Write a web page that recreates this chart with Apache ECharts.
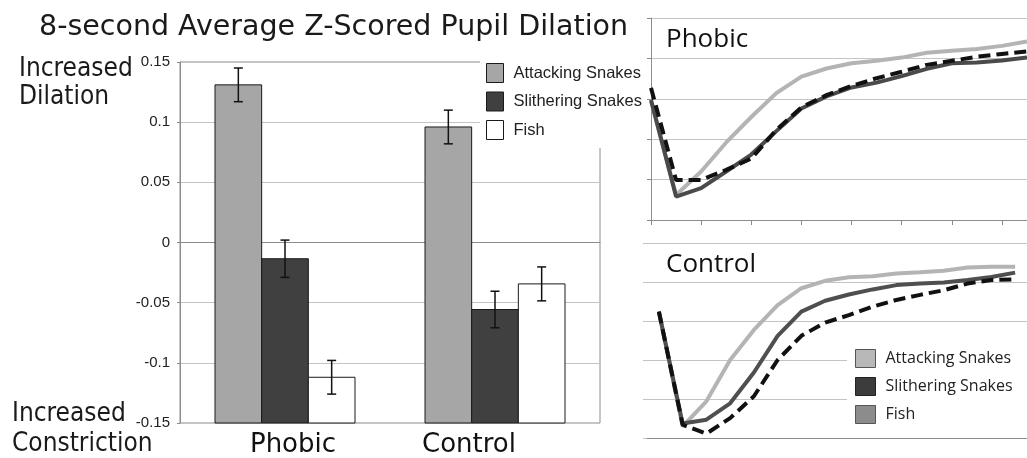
<html>
<head>
  <meta charset="utf-8">
  <style>
    html, body { margin: 0; padding: 0; background: #fff; }
    #container { width: 1027px; height: 458px; }
  </style>
</head>
<body>
<div id="container"></div>
<script src="https://cdn.jsdelivr.net/npm/echarts@6/dist/echarts.min.js"></script>
<script>
  // bar chart data (8-second average z-scored pupil dilation)
  const groups = ['Phobic', 'Control'];
  const attackMean = [0.131, 0.096];
  const slitherMean = [-0.0135, -0.0557];
  const fishMean = [-0.112, -0.0344];
  const attackErr = [0.014, 0.014];
  const slitherErr = [0.0155, 0.0152];
  const fishErr = [0.014, 0.0141];

  // time course panels (half-second steps)
  const timeLabels = ['0', '0.5', '1', '1.5', '2', '2.5', '3', '3.5', '4', '4.5', '5', '5.5', '6', '6.5', '7', '7.5'];
  const phobicAttack = [2.95, 0.62, 1.2, 1.92, 2.55, 3.14, 3.55, 3.75, 3.88, 3.94, 4.02, 4.14, 4.19, 4.23, 4.31, 4.42];
  const phobicSlither = [2.97, 0.58, 0.79, 1.2, 1.62, 2.2, 2.76, 3.06, 3.28, 3.4, 3.56, 3.74, 3.88, 3.9, 3.95, 4.02];
  const phobicFish = [3.27, 0.99, 0.99, 1.24, 1.52, 2.23, 2.79, 3.09, 3.32, 3.51, 3.67, 3.84, 3.94, 4.04, 4.11, 4.17];
  const controlAttack = [3.24, 0.3, 0.94, 2.0, 2.77, 3.41, 3.84, 4.03, 4.12, 4.15, 4.22, 4.25, 4.29, 4.37, 4.39, 4.39];
  const controlSlither = [3.24, 0.37, 0.47, 0.89, 1.68, 2.62, 3.24, 3.52, 3.68, 3.81, 3.92, 3.96, 3.99, 4.05, 4.13, 4.24];
  const controlFish = [3.24, 0.34, 0.11, 0.51, 1.07, 2.0, 2.62, 2.96, 3.15, 3.37, 3.54, 3.67, 3.79, 3.96, 4.05, 4.07];

  const names = ['Attacking Snakes', 'Slithering Snakes', 'Fish'];

  var dom = document.getElementById('container');
  var myChart = echarts.init(dom, null, { renderer: 'canvas' });

  const axisGray = '#8c8c8c';
  const gridGray = '#c4c4c4';
  const catGap = 1 / 3;
  const yMin = -0.15, yMax = 0.15;   // bars rise from the axis floor, like the original

  function barData(mean, err) {
    return mean.map((m, i) => [i, m, m - err[i], m + err[i]]);
  }

  // bar from the axis floor plus an I-beam error bar, slot = position in the group
  function barRender(slot) {
    return function (params, api) {
      const cat = api.value(0);
      const top = api.coord([cat, api.value(1)]);
      const base = api.coord([cat, yMin]);
      const lo = api.coord([cat, api.value(2)]);
      const hi = api.coord([cat, api.value(3)]);
      const band = api.size([1, 0])[0];
      const bw = band * (1 - catGap) / 3;
      const x0 = top[0] - 1.5 * bw + slot * bw;
      const x = x0 + bw / 2;
      const cap = 4.5;
      const st = { stroke: '#111', lineWidth: 1.5 };
      return {
        type: 'group',
        children: [
          { type: 'rect', shape: { x: x0, y: top[1], width: bw, height: base[1] - top[1] },
            style: api.style({ lineWidth: 1 }) },
          { type: 'line', shape: { x1: x, y1: hi[1], x2: x, y2: lo[1] }, style: st },
          { type: 'line', shape: { x1: x - cap, y1: hi[1], x2: x + cap, y2: hi[1] }, style: st },
          { type: 'line', shape: { x1: x - cap, y1: lo[1], x2: x + cap, y2: lo[1] }, style: st }
        ]
      };
    };
  }

  function barSeries(slot, mean, err, color) {
    return {
      name: names[slot], type: 'custom', renderItem: barRender(slot),
      data: barData(mean, err), encode: { x: 0, y: [1, 2, 3] },
      itemStyle: { color: color, borderColor: '#1a1a1a', borderWidth: 1 },
      silent: true
    };
  }

  function lineSeries(name, data, idx, color, dashed) {
    return {
      name: name, type: 'line', data: data,
      xAxisIndex: idx, yAxisIndex: idx,
      symbol: 'none', silent: true,
      lineStyle: { color: color, width: 4, type: dashed ? [12, 6] : 'solid' },
      itemStyle: { color: color },
      z: dashed ? 4 : 3
    };
  }

  const barFont = 'Liberation Sans';
  const barColors = ['#a6a6a6', '#404040', '#ffffff'];

  var option = {
    animation: false,
    title: [
      { text: '8-second Average Z-Scored Pupil Dilation', left: 39, top: 13, padding: 0,
        textStyle: { fontFamily: 'DejaVu Sans', fontSize: 28.5, fontWeight: 'normal', color: '#1a1a1a' } },
      { text: 'Increased\nDilation', left: 19, top: 55, padding: 0,
        textStyle: { fontFamily: 'DejaVu Sans Condensed', fontSize: 26, lineHeight: 28, fontWeight: 'normal', color: '#1a1a1a' } },
      { text: 'Increased\nConstriction', left: 12, top: 399, padding: 0,
        textStyle: { fontFamily: 'DejaVu Sans Condensed', fontSize: 26, lineHeight: 30, fontWeight: 'normal', color: '#1a1a1a' } },
      { text: 'Phobic', left: 666, top: 27, padding: 0,
        textStyle: { fontFamily: 'Open Sans', fontSize: 26, fontWeight: 'normal', color: '#111' } },
      { text: 'Control', left: 666, top: 252, padding: 0,
        textStyle: { fontFamily: 'Open Sans', fontSize: 26, fontWeight: 'normal', color: '#111' } }
    ],
    legend: [
      {
        data: names.map((n, i) => ({ name: n, icon: 'rect',
          itemStyle: { color: barColors[i], borderColor: '#1a1a1a', borderWidth: 1 } })),
        left: 480, top: 57, orient: 'vertical',
        itemWidth: 17, itemHeight: 19, itemGap: 8.5, selectedMode: false,
        backgroundColor: '#fff', padding: [6, 4, 8, 6],
        textStyle: { fontFamily: barFont, fontSize: 16.5, color: '#222', padding: [0, 0, 0, 5] }
      },
      {
        data: [
          { name: names[0], icon: 'rect', itemStyle: { color: '#b8b8b8', borderColor: '#555', borderWidth: 1 } },
          { name: names[1], icon: 'rect', itemStyle: { color: '#3c3c3c', borderColor: '#222', borderWidth: 1 } },
          { name: names[2], icon: 'rect', itemStyle: { color: '#8c8c8c', borderColor: '#555', borderWidth: 1 } }
        ],
        left: 847, top: 343, orient: 'vertical',
        itemWidth: 20, itemHeight: 18, itemGap: 9, selectedMode: false,
        backgroundColor: '#fff', padding: [6, 40, 8, 8],
        textStyle: { fontFamily: 'Open Sans', fontSize: 16, color: '#222', padding: [0, 0, 0, 5] }
      }
    ],
    grid: [
      { left: 180, top: 62, width: 420, height: 361, show: true, borderColor: axisGray, borderWidth: 1 },
      { left: 651, top: 18, width: 385, height: 202 },
      { left: 647, top: 243, width: 387, height: 195 }
    ],
    xAxis: [
      {
        type: 'category', gridIndex: 0, data: groups,
        axisLine: { lineStyle: { color: axisGray } },
        axisTick: { length: 5, lineStyle: { color: axisGray } },
        axisLabel: {
          margin: 9,
          formatter: v => v === 'Control' ? '{c|' + v + '}' : '{p|' + v + '}',
          rich: {
            p: { fontFamily: 'DejaVu Sans', fontSize: 26, color: '#111', padding: [0, 0, 0, 16] },
            c: { fontFamily: 'DejaVu Sans', fontSize: 26, color: '#111', padding: [0, 52, 0, 0] }
          }
        }
      },
      {
        type: 'category', gridIndex: 1, data: timeLabels, boundaryGap: false,
        axisLine: { lineStyle: { color: axisGray } },
        axisTick: { interval: 1, length: 5, lineStyle: { color: axisGray } },
        axisLabel: { show: false }, splitLine: { show: false }
      },
      {
        type: 'category', gridIndex: 2, data: timeLabels, boundaryGap: true,
        axisLine: { lineStyle: { color: axisGray } },
        axisTick: { interval: 1, length: 5, lineStyle: { color: axisGray } },
        axisLabel: { show: false }, splitLine: { show: false }
      }
    ],
    yAxis: [
      {
        type: 'value', gridIndex: 0, min: yMin, max: yMax, interval: 0.05,
        axisLine: { show: true, lineStyle: { color: axisGray } },
        axisTick: { show: true, length: 3, lineStyle: { color: axisGray } },
        axisLabel: { margin: 10, fontFamily: barFont, fontSize: 15, color: '#222',
          formatter: v => String(Math.round(v * 100) / 100) },
        splitLine: { lineStyle: { color: gridGray } }
      },
      {
        type: 'value', gridIndex: 1, min: 0, max: 5, interval: 1,
        axisLine: { show: true, lineStyle: { color: axisGray } },
        axisTick: { show: true, length: 4, lineStyle: { color: axisGray } },
        axisLabel: { show: false },
        splitLine: { lineStyle: { color: gridGray } }
      },
      {
        type: 'value', gridIndex: 2, min: 0, max: 5, interval: 1,
        axisLine: { show: false },
        axisTick: { show: true, length: 4, lineStyle: { color: gridGray } },
        axisLabel: { show: false },
        splitLine: { lineStyle: { color: gridGray } }
      }
    ],
    series: [
      barSeries(0, attackMean, attackErr, barColors[0]),
      barSeries(1, slitherMean, slitherErr, barColors[1]),
      barSeries(2, fishMean, fishErr, barColors[2]),
      lineSeries(names[0], phobicAttack, 1, '#b4b4b4', false),
      lineSeries(names[1], phobicSlither, 1, '#4a4a4a', false),
      lineSeries(names[2], phobicFish, 1, '#111111', true),
      lineSeries(names[0], controlAttack, 2, '#b4b4b4', false),
      lineSeries(names[1], controlSlither, 2, '#4f4f4f', false),
      lineSeries(names[2], controlFish, 2, '#111111', true)
    ]
  };

  if (option && typeof option === 'object') {
    myChart.setOption(option);
  }

  window.addEventListener('resize', myChart.resize);
</script>
</body>
</html>
